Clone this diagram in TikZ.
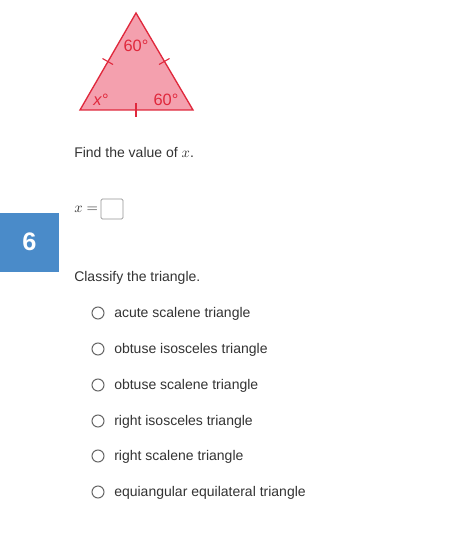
\documentclass[tikz,border=0pt]{standalone}
\usepackage{fontspec}
\setmainfont{Liberation Sans}
\begin{document}
\begin{tikzpicture}[x=0.75pt,y=-0.75pt,
  txt/.style={anchor=base west,inner sep=0pt,text=textgray,font=\fontsize{10.5pt}{12pt}\selectfont},
  radio/.style={circle,draw=radiogray,line width=0.75pt,minimum size=9pt,inner sep=0pt},
  lab/.style={text=trired,inner sep=0pt,font=\fontsize{12.3pt}{14pt}\selectfont}]
\definecolor{textgray}{HTML}{333333}
\definecolor{trired}{HTML}{E0283C}
\definecolor{trifill}{HTML}{F4A0AE}
\definecolor{bluebox}{HTML}{4A8BC9}
\definecolor{radiogray}{HTML}{666666}
\useasboundingbox (0,0) rectangle (454,538);
\fill[white] (0,0) rectangle (454,538);
% triangle
\coordinate (A) at (136,13);
\coordinate (B) at (80,110);
\coordinate (C) at (193,110);
\draw[trired,fill=trifill,line width=1pt,line join=miter] (A) -- (B) -- (C) -- cycle;
\draw[trired,line width=0.8pt] (102.5,58.5) -- (113,64.5);
\draw[trired,line width=0.8pt] (169.5,58.5) -- (159,64.5);
\draw[trired,line width=0.8pt] (136,103) -- (136,117);
\node[lab] (l1) at (136,46) {60°};
\node[lab] (l2) at (101,99.5) {\textit{x}°};
\node[lab] (l3) at (166,99.5) {60°};
% find
\node[txt] (find) at (74,158) {Find the value of $x$.};
\node[txt] (xeq) at (74,213) {$x=$};
\node[draw=radiogray!70,line width=0.6pt,rounded corners=1pt,minimum width=16.5pt,minimum height=15pt,inner sep=0pt] (ans) at (112,209) {};
% blue number box
\fill[bluebox] (0,213) rectangle (59,272);
\node[text=white,font=\bfseries\fontsize{19pt}{22pt}\selectfont] (num) at (29.5,242) {6};
\node[txt] (cls) at (74,281) {Classify the triangle.};
\foreach \y/\t [count=\i] in {313/acute scalene triangle,349/obtuse isosceles triangle,385/obtuse scalene triangle,421/right isosceles triangle,456/right scalene triangle,492/equiangular equilateral triangle}{
  \node[radio] (r\i) at (98,\y) {};
  \node[txt] (t\i) at (114,\y+4) {\t};
}
\end{tikzpicture}
\end{document}
